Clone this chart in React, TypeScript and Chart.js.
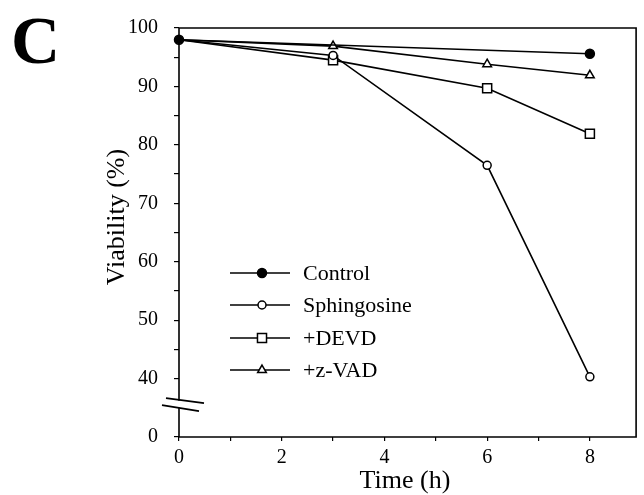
import React, { useEffect, useRef } from 'react';
import { Chart, registerables } from 'chart.js';

Chart.register(...registerables);

// ---- data ----
const timeH = [0, 3, 6, 8];
const controlTime = [0, 8];
const controlViability = [98, 95.6];
const sphingosineViability = [98, 95.3, 76.5, 40.3];
const devdViability = [98, 94.5, 89.7, 81.9];
const zvadViability = [98, 96.9, 93.8, 91.9];
const seriesLabels = ['Control', 'Sphingosine', '+DEVD', '+z-VAD'];

const xTickValues = [0, 1, 2, 3, 4, 5, 6, 7, 8];
const xTickLabels = ['0', '', '2', '', '4', '', '6', '', '8'];
// the axis is broken: the bottom of the scale (30) is labelled "0"
const yTickValues = [30, 40, 45, 50, 55, 60, 65, 70, 75, 80, 85, 90, 95, 100];
const yTickLabels = ['0', '40', '', '50', '', '60', '', '70', '', '80', '', '90', '', '100'];
const yBreakValue = 35.7;

const FONT = '"Liberation Serif", "Times New Roman", serif';

type Marker = { style: 'circle' | 'rect' | 'triangle'; radius: number; fill: string };
const markers: Marker[] = [
  { style: 'circle', radius: 4.5, fill: '#000' },
  { style: 'circle', radius: 4, fill: '#fff' },
  { style: 'rect', radius: 6.4, fill: '#fff' },
  { style: 'triangle', radius: 5, fill: '#fff' },
];

function drawMarker(ctx: CanvasRenderingContext2D, m: Marker, x: number, y: number) {
  ctx.save();
  ctx.beginPath();
  if (m.style === 'circle') {
    ctx.arc(x, y, m.radius, 0, Math.PI * 2);
  } else if (m.style === 'rect') {
    const s = Math.SQRT1_2 * m.radius;
    ctx.rect(x - s, y - s, 2 * s, 2 * s);
  } else {
    let rad = 0;
    const r = m.radius;
    ctx.moveTo(x + Math.sin(rad) * r, y - Math.cos(rad) * r);
    rad += (2 * Math.PI) / 3;
    ctx.lineTo(x + Math.sin(rad) * r, y - Math.cos(rad) * r);
    rad += (2 * Math.PI) / 3;
    ctx.lineTo(x + Math.sin(rad) * r, y - Math.cos(rad) * r);
    ctx.closePath();
  }
  ctx.fillStyle = m.fill;
  ctx.fill();
  ctx.lineWidth = 1.5;
  ctx.strokeStyle = '#000';
  ctx.stroke();
  ctx.restore();
}

const decorPlugin = {
  id: 'decor',
  afterDraw(chart: any) {
    const ctx: CanvasRenderingContext2D = chart.ctx;
    const { left, right, top, bottom } = chart.chartArea;
    const yScale = chart.scales.y;
    const breakY = yScale.getPixelForValue(yBreakValue);

    ctx.save();
    ctx.strokeStyle = '#000';
    ctx.lineWidth = 1.6;
    // frame (left axis interrupted at the break)
    ctx.beginPath();
    ctx.moveTo(left, breakY - 3);
    ctx.lineTo(left, top);
    ctx.lineTo(right, top);
    ctx.lineTo(right, bottom);
    ctx.lineTo(left, bottom);
    ctx.lineTo(left, breakY + 4);
    ctx.stroke();

    // break marks
    ctx.lineWidth = 1.8;
    ctx.beginPath();
    ctx.moveTo(left - 13, breakY - 5.5);
    ctx.lineTo(left + 25, breakY - 0.5);
    ctx.moveTo(left - 17, breakY + 1.5);
    ctx.lineTo(left + 20, breakY + 7.5);
    ctx.stroke();

    // legend
    const legendRows = [273, 305, 338, 370];
    ctx.font = `22px ${FONT}`;
    ctx.fillStyle = '#000';
    ctx.textAlign = 'left';
    ctx.textBaseline = 'middle';
    seriesLabels.forEach((label, i) => {
      const y = legendRows[i];
      ctx.lineWidth = 1.5;
      ctx.beginPath();
      ctx.moveTo(230, y);
      ctx.lineTo(290, y);
      ctx.stroke();
      drawMarker(ctx, markers[i], 262, y);
      ctx.fillStyle = '#000';
      ctx.fillText(label, 303, y + 1);
    });

    // axis titles
    ctx.font = `26px ${FONT}`;
    ctx.textAlign = 'center';
    ctx.textBaseline = 'middle';
    ctx.fillText('Time (h)', 405, 481);
    ctx.save();
    ctx.translate(117, 217);
    ctx.rotate(-Math.PI / 2);
    ctx.fillText('Viability (%)', 0, 0);
    ctx.restore();

    // panel letter
    ctx.font = `bold 68px ${FONT}`;
    ctx.textAlign = 'left';
    ctx.textBaseline = 'alphabetic';
    ctx.fillText('C', 11, 63);
    ctx.restore();
  },
};

export default function App() {
  const canvasRef = useRef<HTMLCanvasElement | null>(null);

  useEffect(() => {
    if (!canvasRef.current) return;
    // only the Control marker is shown at the shared starting point
    const mk = (i: number) => ({
      pointStyle: markers[i].style,
      pointRadius: (c: any) => (i !== 0 && c.dataIndex === 0 ? 0 : markers[i].radius),
      pointHoverRadius: markers[i].radius,
      pointBackgroundColor: markers[i].fill,
      pointBorderColor: '#000',
      pointBorderWidth: 1.5,
      borderColor: '#000',
      borderWidth: 1.6,
      fill: false,
      tension: 0,
      clip: false as any,
    });
    const chart = new Chart(canvasRef.current, {
      type: 'line',
      data: {
        datasets: [
          { label: seriesLabels[0], data: controlTime.map((t, i) => ({ x: t, y: controlViability[i] })), ...mk(0), order: 0 },
          { label: seriesLabels[1], data: timeH.map((t, i) => ({ x: t, y: sphingosineViability[i] })), ...mk(1), order: 1 },
          { label: seriesLabels[2], data: timeH.map((t, i) => ({ x: t, y: devdViability[i] })), ...mk(2), order: 2 },
          { label: seriesLabels[3], data: timeH.map((t, i) => ({ x: t, y: zvadViability[i] })), ...mk(3), order: 3 },
        ],
      },
      options: {
        animation: false,
        responsive: false,
        layout: { padding: { top: 25, right: 1, left: 0, bottom: 0 } },
        plugins: { legend: { display: false }, tooltip: { enabled: false } },
        scales: {
          x: {
            type: 'linear',
            min: 0,
            max: 8.9,
            afterBuildTicks: (s: any) => {
              s.ticks = xTickValues.map((v) => ({ value: v }));
            },
            afterFit: (s: any) => {
              s.height = 58;
            },
            ticks: {
              callback: (_v: any, i: number) => xTickLabels[i],
              font: { family: FONT, size: 20 },
              color: '#000',
              padding: 5,
              maxRotation: 0,
              autoSkip: false,
            },
            grid: { drawOnChartArea: false, tickLength: 4, color: '#000', lineWidth: 1.2 },
            border: { display: false },
          },
          y: {
            type: 'linear',
            min: 30,
            max: 100,
            afterBuildTicks: (s: any) => {
              s.ticks = yTickValues.map((v) => ({ value: v }));
            },
            afterFit: (s: any) => {
              s.width = 179;
            },
            ticks: {
              callback: (_v: any, i: number) => yTickLabels[i],
              font: { family: FONT, size: 20 },
              color: '#000',
              padding: 16,
              autoSkip: false,
            },
            grid: { drawOnChartArea: false, tickLength: 5, color: '#000', lineWidth: 1.2 },
            border: { display: false },
          },
        },
      },
      plugins: [decorPlugin],
    });
    return () => chart.destroy();
  }, []);

  return (
    <div style={{ position: 'absolute', left: 0, top: 0, width: 644, height: 495, background: '#fff' }}>
      <canvas ref={canvasRef} width={644} height={495} style={{ display: 'block' }} />
    </div>
  );
}
